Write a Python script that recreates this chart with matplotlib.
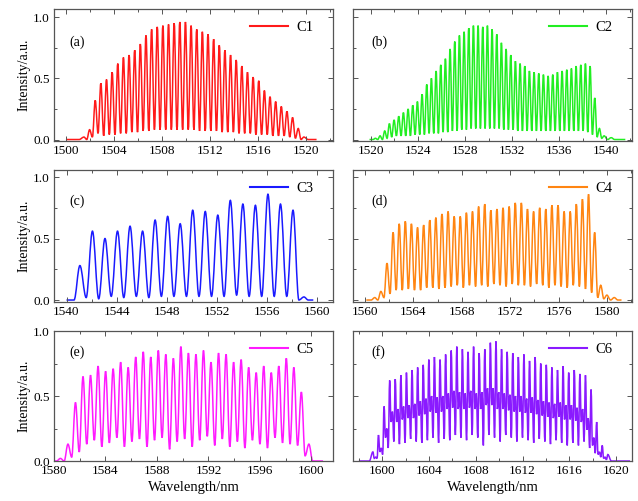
import numpy as np
import matplotlib
matplotlib.use("Agg")
import matplotlib.pyplot as plt
from matplotlib.path import Path
from matplotlib.patches import PathPatch
from matplotlib.lines import Line2D
from matplotlib.ticker import MultipleLocator

plt.rcParams['font.family'] = ['Liberation Serif', 'DejaVu Serif']
plt.rcParams['font.size'] = 9.5

# ---------------- spectra: comb peak heights, trough heights and tails ----------------
# C1
C1_first, C1_last = 1501.5, 1519.84
C1_peaks = [0.02, 0.08, 0.32, 0.46, 0.49, 0.55, 0.62, 0.67, 0.69, 0.73,
            0.78, 0.85, 0.90, 0.92, 0.93, 0.94, 0.95, 0.96, 0.96, 0.93,
            0.90, 0.88, 0.86, 0.82, 0.77, 0.73, 0.69, 0.65, 0.60, 0.55,
            0.51, 0.48, 0.40, 0.35, 0.31, 0.27, 0.23, 0.18, 0.09, 0.02]
C1_troughs = [0.00, 0.02, 0.05, 0.03, 0.04, 0.04, 0.05, 0.05, 0.06, 0.06,
              0.07, 0.07, 0.08, 0.08, 0.08, 0.08, 0.08, 0.08, 0.08, 0.08,
              0.07, 0.07, 0.07, 0.07, 0.06, 0.06, 0.06, 0.05, 0.05, 0.05,
              0.04, 0.04, 0.04, 0.03, 0.03, 0.03, 0.02, 0.01, 0.00]
C1_lead_x, C1_lead_y = [1500.0, 1501.1], [0.0, 0.0]
C1_tail_x, C1_tail_y = [1520.2, 1520.9], [0.0, 0.0]

# C2
C2_first, C2_last = 1520.4, 1539.8
C2_peaks = [0.01, 0.03, 0.07, 0.13, 0.16, 0.19, 0.22, 0.25, 0.28, 0.31,
            0.37, 0.45, 0.50, 0.56, 0.61, 0.66, 0.74, 0.80, 0.85, 0.88,
            0.91, 0.93, 0.93, 0.92, 0.93, 0.90, 0.86, 0.79, 0.74, 0.69,
            0.64, 0.62, 0.60, 0.56, 0.55, 0.54, 0.53, 0.52, 0.53, 0.55,
            0.56, 0.57, 0.58, 0.60, 0.61, 0.62, 0.60, 0.34, 0.09, 0.03]
C2_troughs = [0.00, 0.00, 0.01, 0.02, 0.03, 0.03, 0.03, 0.03, 0.04, 0.04,
              0.04, 0.05, 0.05, 0.05, 0.06, 0.06, 0.07, 0.07, 0.08, 0.08,
              0.09, 0.09, 0.09, 0.09, 0.09, 0.09, 0.09, 0.08, 0.08, 0.08,
              0.07, 0.07, 0.07, 0.07, 0.07, 0.07, 0.07, 0.07, 0.07, 0.07,
              0.07, 0.07, 0.07, 0.07, 0.07, 0.06, 0.04, 0.02, 0.01]
C2_lead_x, C2_lead_y = [1519.9, 1520.2], [0.0, 0.0]
C2_tail_x, C2_tail_y = [1540.1, 1540.4, 1540.7, 1541.6], [0.0, 0.015, 0.0, 0.0]

# C3
C3_first, C3_last = 1541.07, 1558.08
C3_peaks = [0.28, 0.56, 0.50, 0.56, 0.60, 0.56, 0.65, 0.68, 0.62, 0.73,
            0.72, 0.69, 0.81, 0.78, 0.77, 0.86, 0.78, 0.73]
C3_troughs = [0.02, 0.01, 0.03, 0.02, 0.03, 0.02, 0.03, 0.03, 0.03, 0.03,
              0.03, 0.03, 0.04, 0.03, 0.03, 0.03, 0.03]
C3_lead_x, C3_lead_y = [1540.0, 1540.6], [0.0, 0.0]
C3_tail_x, C3_tail_y = [1558.55, 1558.95, 1559.3, 1559.7], [0.0, 0.025, 0.0, 0.0]

# C4
C4_first, C4_last = 1560.8, 1579.99
C4_peaks = [0.02, 0.07, 0.30, 0.55, 0.62, 0.64, 0.62, 0.59, 0.61, 0.65,
            0.67, 0.70, 0.72, 0.68, 0.68, 0.71, 0.72, 0.76, 0.78, 0.73,
            0.74, 0.75, 0.76, 0.79, 0.79, 0.74, 0.72, 0.75, 0.74, 0.77,
            0.77, 0.72, 0.72, 0.78, 0.82, 0.86, 0.55, 0.12, 0.04]
C4_troughs = [0.00, 0.02, 0.05, 0.08, 0.08, 0.09, 0.08, 0.08, 0.10, 0.10,
              0.09, 0.10, 0.11, 0.12, 0.10, 0.12, 0.11, 0.12, 0.11, 0.13,
              0.12, 0.11, 0.13, 0.12, 0.12, 0.11, 0.13, 0.12, 0.10, 0.12,
              0.11, 0.10, 0.12, 0.11, 0.09, 0.06, 0.02, 0.01]
C4_lead_x, C4_lead_y = [1560.1, 1560.5], [0.0, 0.0]
C4_tail_x, C4_tail_y = [1580.3, 1580.6, 1580.9, 1581.2], [0.0, 0.02, 0.0, 0.0]

# C5
C5_first, C5_last = 1580.5, 1599.8
C5_peaks = [0.02, 0.13, 0.45, 0.65, 0.66, 0.73, 0.69, 0.71, 0.76, 0.72,
            0.80, 0.84, 0.80, 0.85, 0.82, 0.79, 0.88, 0.83, 0.82, 0.85,
            0.76, 0.83, 0.82, 0.76, 0.78, 0.72, 0.68, 0.73, 0.68, 0.73,
            0.79, 0.72, 0.53, 0.13]
C5_troughs = [0.00, 0.03, 0.07, 0.13, 0.16, 0.11, 0.14, 0.18, 0.11, 0.15,
              0.17, 0.11, 0.16, 0.18, 0.09, 0.15, 0.17, 0.11, 0.16, 0.19,
              0.12, 0.17, 0.11, 0.15, 0.10, 0.16, 0.13, 0.10, 0.18, 0.14,
              0.13, 0.12, 0.04]
C5_lead_x, C5_lead_y = [1580.0, 1580.2], [0.0, 0.0]
C5_tail_x, C5_tail_y = [1600.1, 1600.9], [0.0, 0.0]

# C6: main fringes, each followed by a weaker shoulder fringe
C6_first, C6_last = 1599.2, 1619.3
C6_main = [0.07, 0.20, 0.42, 0.62, 0.63, 0.66, 0.68, 0.70, 0.72, 0.74,
           0.78, 0.80, 0.78, 0.82, 0.85, 0.88, 0.86, 0.84, 0.88, 0.83,
           0.86, 0.91, 0.92, 0.86, 0.84, 0.83, 0.80, 0.82, 0.77, 0.80,
           0.75, 0.74, 0.72, 0.70, 0.73, 0.68, 0.70, 0.67, 0.66, 0.55,
           0.30, 0.12, 0.05]
C6_sub = [0.03, 0.10, 0.25, 0.38, 0.40, 0.42, 0.43, 0.44, 0.46, 0.48,
          0.50, 0.49, 0.50, 0.52, 0.54, 0.53, 0.52, 0.54, 0.52, 0.53,
          0.56, 0.56, 0.53, 0.52, 0.51, 0.50, 0.50, 0.48, 0.49, 0.47,
          0.46, 0.45, 0.44, 0.45, 0.43, 0.43, 0.41, 0.40, 0.33, 0.18,
          0.07, 0.03]
C6_troughs_after_main = [0.02, 0.07, 0.18, 0.30, 0.30, 0.32, 0.33, 0.33, 0.35, 0.36,
                         0.38, 0.37, 0.38, 0.40, 0.41, 0.40, 0.40, 0.41, 0.40, 0.40,
                         0.43, 0.43, 0.40, 0.40, 0.39, 0.38, 0.38, 0.37, 0.37, 0.36,
                         0.35, 0.34, 0.33, 0.34, 0.32, 0.32, 0.31, 0.30, 0.24, 0.12,
                         0.05, 0.02]
C6_troughs_after_sub = [0.02, 0.05, 0.10, 0.15, 0.13, 0.14, 0.17, 0.15, 0.14, 0.16,
                        0.18, 0.14, 0.17, 0.16, 0.20, 0.18, 0.16, 0.20, 0.18, 0.12,
                        0.20, 0.18, 0.15, 0.20, 0.18, 0.15, 0.18, 0.16, 0.14, 0.17,
                        0.15, 0.13, 0.16, 0.14, 0.12, 0.14, 0.12, 0.15, 0.10, 0.06,
                        0.03, 0.01]
C6_lead_x, C6_lead_y = [1598.0, 1598.9], [0.0, 0.0]
C6_tail_x, C6_tail_y = [1619.6, 1621.2], [0.0, 0.0]


def interleave(a, b):
    out = []
    for i, v in enumerate(a):
        out.append(v)
        if i < len(b):
            out.append(b[i])
    return out


C6_peaks = interleave(C6_main, C6_sub)
C6_troughs = interleave(C6_troughs_after_main, C6_troughs_after_sub)

names = ['C1', 'C2', 'C3', 'C4', 'C5', 'C6']
tags = ['(a)', '(b)', '(c)', '(d)', '(e)', '(f)']
colors = ['#ff1a1a', '#22ee22', '#1a1aff', '#ff8512', '#ff1aff', '#8a1aff']
xlims = [(1499.0, 1522.3), (1518.5, 1542.2), (1539.0, 1561.3),
         (1559.0, 1582.1), (1580.0, 1601.7), (1597.5, 1621.4)]
xticks = [range(1500, 1521, 4), range(1520, 1541, 4), range(1540, 1561, 4),
          range(1560, 1581, 4), range(1580, 1601, 4), range(1600, 1621, 4)]

series = {
    'C1': (C1_first, C1_last, C1_peaks, C1_troughs, C1_lead_x, C1_lead_y, C1_tail_x, C1_tail_y),
    'C2': (C2_first, C2_last, C2_peaks, C2_troughs, C2_lead_x, C2_lead_y, C2_tail_x, C2_tail_y),
    'C3': (C3_first, C3_last, C3_peaks, C3_troughs, C3_lead_x, C3_lead_y, C3_tail_x, C3_tail_y),
    'C4': (C4_first, C4_last, C4_peaks, C4_troughs, C4_lead_x, C4_lead_y, C4_tail_x, C4_tail_y),
    'C5': (C5_first, C5_last, C5_peaks, C5_troughs, C5_lead_x, C5_lead_y, C5_tail_x, C5_tail_y),
    'C6': (C6_first, C6_last, C6_peaks, C6_troughs, C6_lead_x, C6_lead_y, C6_tail_x, C6_tail_y),
}


def spectrum_points(first, last, peaks, troughs, lead_x, lead_y, tail_x, tail_y):
    """Alternate peak / trough extrema of the comb, framed by the baseline tails."""
    px = np.linspace(first, last, len(peaks))
    tx = 0.5 * (px[:-1] + px[1:])
    xs, ys = list(lead_x), list(lead_y)
    for i, (x, y) in enumerate(zip(px, peaks)):
        xs.append(x)
        ys.append(y)
        if i < len(troughs):
            xs.append(tx[i])
            ys.append(troughs[i])
    xs += list(tail_x)
    ys += list(tail_y)
    return np.array(xs), np.array(ys)


def smooth_path(xs, ys):
    """Cubic Bezier path with flat tangents at each extremum."""
    k = 0.364
    verts = [(xs[0], ys[0])]
    codes = [Path.MOVETO]
    for x0, y0, x1, y1 in zip(xs[:-1], ys[:-1], xs[1:], ys[1:]):
        dx = x1 - x0
        verts += [(x0 + k * dx, y0), (x1 - k * dx, y1), (x1, y1)]
        codes += [Path.CURVE4] * 3
    return Path(verts, codes)


fig = plt.figure(figsize=(6.38, 5.01), dpi=100)
lefts = [0.0846, 0.5533]
width = 0.4379
rows = [(0.7186, 0.2635, (-0.012, 1.066)),
        (0.3972, 0.2635, (-0.016, 1.057)),
        (0.0798, 0.2595, (0.0, 1.0))]
tag_y = [0.75, 0.76, 0.84]
frame_col = '#555555'

for i, name in enumerate(names):
    r, c = divmod(i, 2)
    bottom, height, ylim = rows[r]
    ax = fig.add_axes([lefts[c], bottom, width, height])
    xs, ys = spectrum_points(*series[name])
    ax.add_patch(PathPatch(smooth_path(xs, ys), facecolor='none',
                           edgecolor=colors[i], lw=1.1))
    ax.set_xlim(*xlims[i])
    ax.set_ylim(*ylim)
    ax.set_xticks(list(xticks[i]))
    ax.xaxis.set_minor_locator(MultipleLocator(2))
    ax.set_yticks([0.0, 0.5, 1.0])
    ax.yaxis.set_minor_locator(MultipleLocator(0.25))
    ax.tick_params(which='both', direction='in', top=True, right=True,
                   color=frame_col, width=0.7)
    ax.tick_params(which='major', length=3.5, labelsize=9.5, pad=3)
    ax.tick_params(which='minor', length=2)
    for s in ax.spines.values():
        s.set_color(frame_col)
        s.set_linewidth(0.9)
    if c == 0:
        ax.set_yticklabels(['0.0', '0.5', '1.0'])
        ax.set_ylabel('Intensity/a.u.', fontsize=10, labelpad=2)
    else:
        ax.set_yticklabels([])
    if r == 2:
        ax.set_xlabel('Wavelength/nm', fontsize=10.5, labelpad=3)
    ax.text(0.055 if c == 0 else 0.064, tag_y[r], tags[i], transform=ax.transAxes,
            ha='left', va='center', fontsize=10)
    handle = Line2D([], [], color=colors[i], lw=1.5)
    ax.legend([handle], [name], loc='upper right', bbox_to_anchor=(0.95, 0.955),
              borderaxespad=0, frameon=False, handlelength=2.6, handletextpad=0.6,
              fontsize=10.5)

fig.savefig('out.png', dpi=100)
